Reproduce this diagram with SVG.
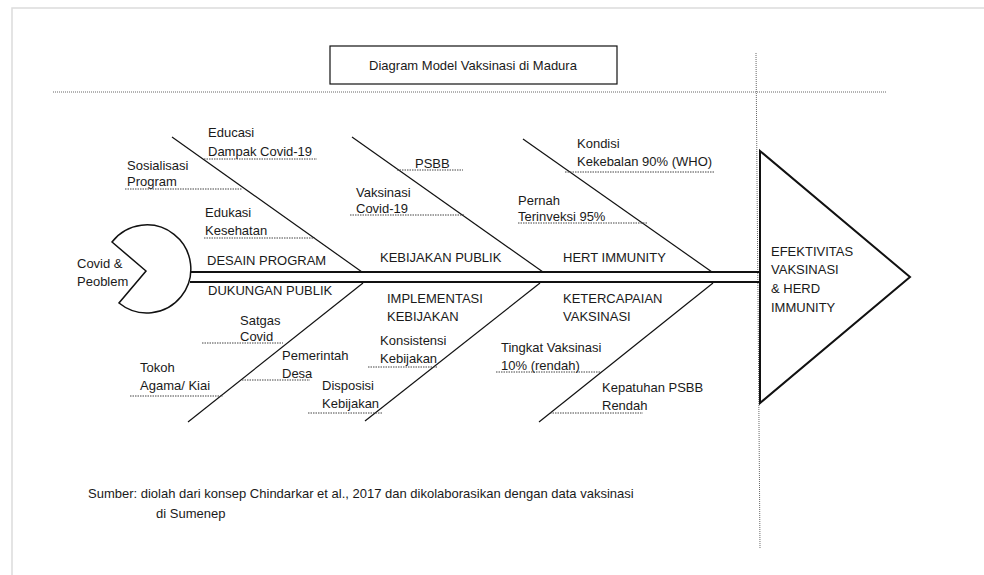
<svg xmlns="http://www.w3.org/2000/svg" width="984" height="575" viewBox="0 0 984 575">
<defs>
<style>
text{font-family:"Liberation Sans",Arial,sans-serif;font-size:13px;fill:#1a1a1a}
.bone{stroke:#111;stroke-width:1.2;fill:none}
.spine{stroke:#111;stroke-width:2;fill:none}
.dot{stroke:#444;stroke-width:1;stroke-dasharray:1.5 1;fill:none}
.guide{stroke:#666;stroke-width:1;stroke-dasharray:1 1;fill:none}
</style>
</defs>
<rect width="984" height="575" fill="#fff"/>
<path d="M12,575 V8 H984" fill="none" stroke="#dcdcdc" stroke-width="1.5"/>

<g id="title">
<rect x="330" y="46" width="287" height="38" fill="#fff" stroke="#111" stroke-width="1.2"/>
<text x="473" y="70" text-anchor="middle">Diagram Model Vaksinasi di Madura</text>
</g>

<g id="guides">
<line class="guide" x1="53" y1="92" x2="886" y2="92"/>
<line class="guide" x1="756" y1="53" x2="760" y2="548"/>
</g>

<g id="head">
<path d="M112,242 L146,271 L119,303 A44,44 0 1,0 112,242 Z" fill="#fff" stroke="#111" stroke-width="1.5"/>
<text x="77" y="268">Covid &amp;</text>
<text x="77" y="286">Peoblem</text>
</g>

<g id="connectors">
<line class="spine" x1="190" y1="272" x2="760" y2="272"/>
<line class="spine" x1="190" y1="282" x2="760" y2="282"/>
<line class="bone" x1="172" y1="137" x2="362" y2="272"/>
<line class="bone" x1="352" y1="137" x2="543" y2="272"/>
<line class="bone" x1="523" y1="139" x2="712" y2="272"/>
<line class="bone" x1="363" y1="283" x2="188" y2="422"/>
<line class="bone" x1="540" y1="283" x2="365" y2="421"/>
<line class="bone" x1="713" y1="283" x2="539" y2="422"/>
<line class="dot" x1="204" y1="159" x2="317" y2="159"/>
<line class="dot" x1="125" y1="189" x2="242" y2="189"/>
<line class="dot" x1="204" y1="238" x2="315" y2="238"/>
<line class="dot" x1="397" y1="170" x2="463" y2="170"/>
<line class="dot" x1="350" y1="215" x2="465" y2="215"/>
<line class="dot" x1="565" y1="172" x2="715" y2="172"/>
<line class="dot" x1="518" y1="223" x2="648" y2="223"/>
<line class="dot" x1="202" y1="343" x2="283" y2="343"/>
<line class="dot" x1="242" y1="380" x2="310" y2="380"/>
<line class="dot" x1="130" y1="396" x2="223" y2="396"/>
<line class="dot" x1="368" y1="367" x2="438" y2="367"/>
<line class="dot" x1="308" y1="413" x2="383" y2="413"/>
<line class="dot" x1="496" y1="372" x2="600" y2="372"/>
<line class="dot" x1="550" y1="413" x2="643" y2="413"/>
</g>

<g id="desain-program">
<text x="207" y="265">DESAIN PROGRAM</text>
<text x="208" y="137">Educasi</text>
<text x="208" y="156">Dampak Covid-19</text>
<text x="127" y="170">Sosialisasi</text>
<text x="127" y="186">Program</text>
<text x="205" y="217">Edukasi</text>
<text x="205" y="235">Kesehatan</text>
</g>

<g id="kebijakan-publik">
<text x="380" y="262">KEBIJAKAN PUBLIK</text>
<text x="415" y="168">PSBB</text>
<text x="356" y="197">Vaksinasi</text>
<text x="356" y="213">Covid-19</text>
</g>

<g id="hert-immunity">
<text x="563" y="262">HERT IMMUNITY</text>
<text x="577" y="148">Kondisi</text>
<text x="577" y="166">Kekebalan 90% (WHO)</text>
<text x="518" y="205">Pernah</text>
<text x="518" y="221">Terinveksi 95%</text>
</g>

<g id="dukungan-publik">
<text x="208" y="295">DUKUNGAN PUBLIK</text>
<text x="240" y="325">Satgas</text>
<text x="240" y="341">Covid</text>
<text x="282" y="360">Pemerintah</text>
<text x="282" y="378">Desa</text>
<text x="140" y="372">Tokoh</text>
<text x="140" y="390">Agama/ Kiai</text>
</g>

<g id="implementasi-kebijakan">
<text x="387" y="303">IMPLEMENTASI</text>
<text x="387" y="321">KEBIJAKAN</text>
<text x="380" y="345">Konsistensi</text>
<text x="380" y="363">Kebijakan</text>
<text x="322" y="390">Disposisi</text>
<text x="322" y="408">Kebijakan</text>
</g>

<g id="ketercapaian-vaksinasi">
<text x="563" y="303">KETERCAPAIAN</text>
<text x="563" y="321">VAKSINASI</text>
<text x="501" y="352">Tingkat Vaksinasi</text>
<text x="501" y="370">10% (rendah)</text>
<text x="602" y="392">Kepatuhan PSBB</text>
<text x="602" y="410">Rendah</text>
</g>

<g id="effect">
<path d="M760,151 L910,277 L760,403 Z" fill="#fff" stroke="#111" stroke-width="2"/>
<text x="771" y="256">EFEKTIVITAS</text>
<text x="771" y="274">VAKSINASI</text>
<text x="771" y="293">&amp; HERD</text>
<text x="771" y="312">IMMUNITY</text>
</g>

<g id="source">
<text x="88" y="498">Sumber: diolah dari konsep Chindarkar et al., 2017 dan dikolaborasikan dengan data vaksinasi</text>
<text x="156" y="518">di Sumenep</text>
</g>
</svg>
